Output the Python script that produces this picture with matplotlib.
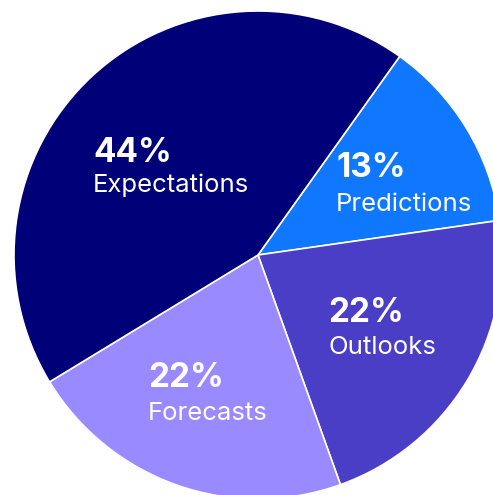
import matplotlib
matplotlib.use("Agg")
import matplotlib.pyplot as plt

# slice data, clockwise from the top right
labels = ["Predictions", "Outlooks", "Forecasts", "Expectations"]
shares = [13, 22, 22, 44]
colors = ["#0F78FF", "#4A3EC6", "#9A8AFF", "#000078"]

# left/baseline anchor of each label block, in pixels of the 493x495 image
pct_pos = [(336, 177), (328, 322), (148, 387), (93, 162)]
name_pos = [(336, 211), (328, 354), (148, 420), (93, 192)]

CX, CY, R = 258, 255, 244
W, H = 493, 495

plt.rcParams["font.family"] = ["Inter", "DejaVu Sans"]

fig = plt.figure(figsize=(W / 100, H / 100), dpi=100)
ax = fig.add_axes([(CX - R) / W, (H - CY - R) / H, 2 * R / W, 2 * R / H])

ax.pie(
    shares,
    colors=colors,
    startangle=54.5,
    counterclock=False,
    wedgeprops=dict(edgecolor="white", linewidth=1.2),
)
ax.set_xlim(-1, 1)
ax.set_ylim(-1, 1)
ax.set_aspect("equal")
ax.axis("off")


def to_data(px, py):
    return (px - CX) / R, (CY - py) / R


for name, val, p1, p2 in zip(labels, shares, pct_pos, name_pos):
    x, y = to_data(*p1)
    ax.text(x, y, f"{val}%", color="white", fontsize=24, fontweight="bold",
            ha="left", va="baseline")
    x, y = to_data(*p2)
    ax.text(x, y, name, color="white", fontsize=18.5,
            ha="left", va="baseline")

fig.savefig("out.png", dpi=100)
